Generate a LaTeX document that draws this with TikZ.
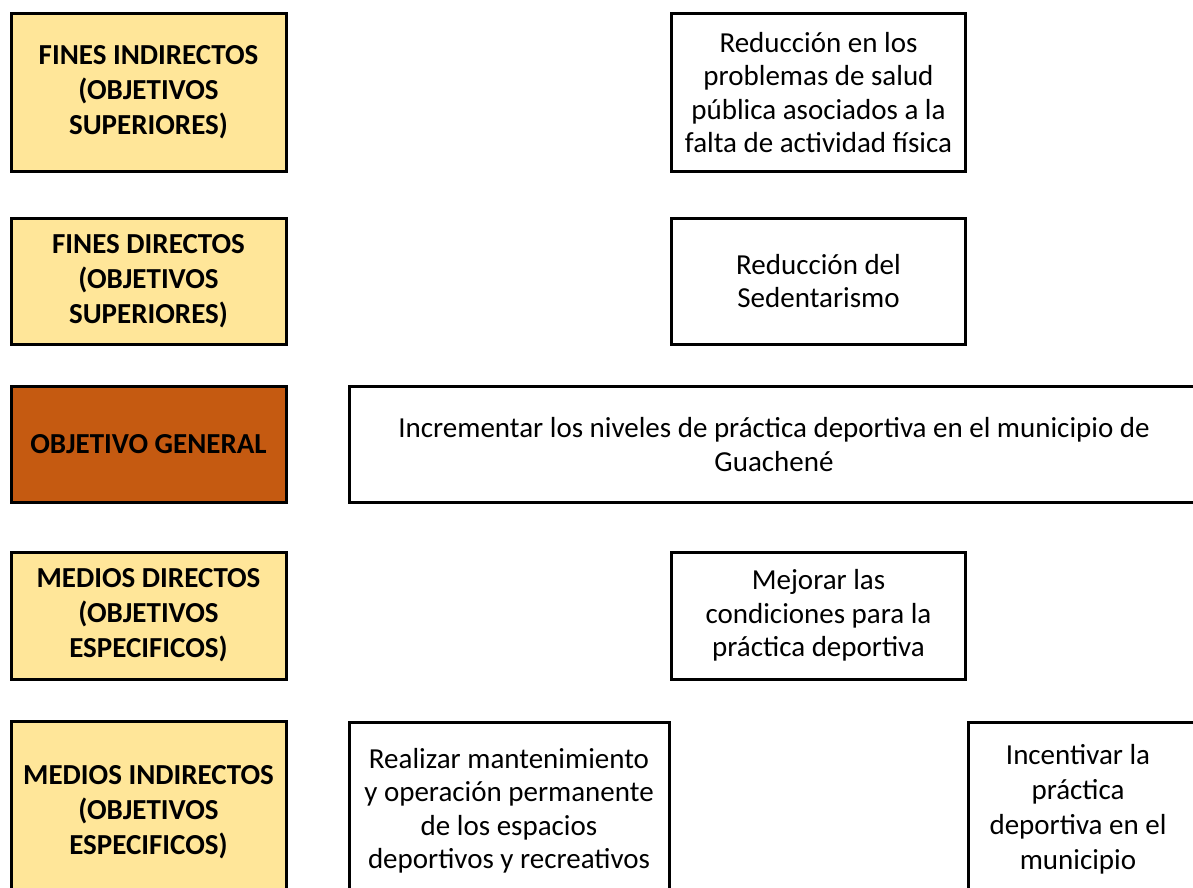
\documentclass[tikz,border=0pt]{standalone}
\usepackage{fontspec}
\setmainfont{Carlito}
\definecolor{gold}{HTML}{FFE699}
\definecolor{rust}{HTML}{C55A11}
\tikzset{
  box/.style={draw=black, line width=3pt, inner sep=0pt, align=center,
    font=\fontsize{29}{33.5}\selectfont},
  lbox/.style={box, fill=gold, minimum width=275pt,
    font=\fontsize{29}{35}\selectfont\bfseries},
  rbox/.style={box, fill=white, minimum width=294pt},
  txt/.style={inner sep=0pt, align=center, font=\fontsize{29}{35}\selectfont}
}
\begin{document}
\begin{tikzpicture}[x=1pt,y=-1pt]
\useasboundingbox (0,0) rectangle (1193,888);
\clip (0,0) rectangle (1193,888);
% left column
\node[lbox, minimum height=157pt] (l1) at (148.5,92.5) {FINES INDIRECTOS\\(OBJETIVOS\\SUPERIORES)};
\node[lbox, minimum height=126pt] (l2) at (148.5,281) {FINES DIRECTOS\\(OBJETIVOS\\SUPERIORES)};
\node[lbox, fill=rust, minimum height=116pt] (l3) at (148.5,444.5) {OBJETIVO GENERAL};
\node[lbox, minimum height=127pt] (l4) at (148.5,615.5) {MEDIOS DIRECTOS\\(OBJETIVOS\\ESPECIFICOS)};
\node[lbox, minimum height=182pt] (l5) at (148.5,812) {MEDIOS INDIRECTOS\\(OBJETIVOS\\ESPECIFICOS)};
% right column
\node[rbox, minimum height=157pt] (r1) at (818.5,92.5) {Reducción en los\\problemas de salud\\pública asociados a la\\falta de actividad física};
\node[rbox, minimum height=126pt] (r2) at (818.5,281) {Reducción del\\Sedentarismo};
\node[rbox, minimum width=850pt, minimum height=116pt] (r3) at (774,444.5) {Incrementar los niveles de práctica deportiva en el municipio de\\Guachené};
\node[rbox, minimum height=127pt] (r4) at (818.5,615.5) {Mejorar las\\condiciones para la\\práctica deportiva};
\node[rbox, minimum width=320pt, minimum height=178pt] (r5a) at (509,811) {Realizar mantenimiento\\y operación permanente\\de los espacios\\deportivos y recreativos};
\node[rbox, minimum width=232pt, minimum height=184pt] (r5b) at (1084,814) {};
\node[txt] (t5b) at (1078,809) {Incentivar la\\práctica\\deportiva en el\\municipio};
\end{tikzpicture}
\end{document}
